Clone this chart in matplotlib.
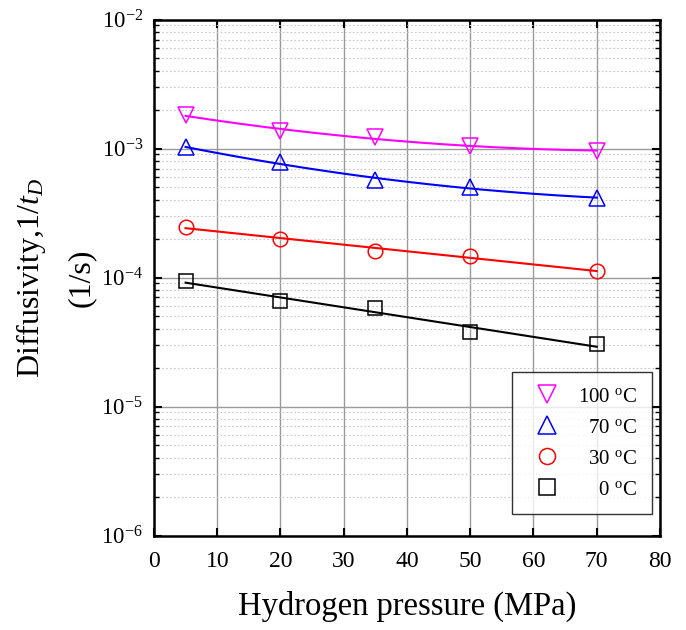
import matplotlib
matplotlib.use('Agg')
import matplotlib.pyplot as plt
import numpy as np
from matplotlib.ticker import LogLocator, NullFormatter, MultipleLocator

plt.rcParams['font.family'] = ['Liberation Serif', 'DejaVu Serif']
plt.rcParams['mathtext.fontset'] = 'custom'
plt.rcParams['mathtext.rm'] = 'Liberation Serif'
plt.rcParams['mathtext.it'] = 'Liberation Serif:italic'
plt.rcParams['axes.unicode_minus'] = False

pressure = [5, 20, 35, 50, 70]
d_0c = [9.4e-5, 6.6e-5, 5.85e-5, 3.75e-5, 3.03e-5]
d_30c = [2.47e-4, 2.0e-4, 1.61e-4, 1.48e-4, 1.12e-4]
d_70c = [1.02e-3, 7.8e-4, 5.7e-4, 5.0e-4, 4.15e-4]
d_100c = [1.82e-3, 1.36e-3, 1.22e-3, 1.05e-3, 0.96e-3]

# figure spaces pad the shorter labels so the text sits flush right
labels = ['\u2007\u20070 $^{\\rm o}$C', '\u200730 $^{\\rm o}$C',
          '\u200770 $^{\\rm o}$C', '100 $^{\\rm o}$C']
colors = ['black', 'red', 'blue', 'magenta']
markers = ['s', 'o', '^', 'v']
sizes = [10, 10.5, 12, 12]
fit_deg = [1, 1, 2, 2]


def fit_curve(x, y, deg):
    # least squares fit in log space
    c = np.polyfit(x, np.log10(y), deg)
    xs = np.linspace(min(x), max(x), 200)
    return xs, 10 ** np.polyval(c, xs)


fig = plt.figure(figsize=(6.86, 6.3), dpi=100)
ax = fig.add_axes([0.2245, 0.150, 0.7375, 0.819])

series = [d_0c, d_30c, d_70c, d_100c]
handles = []
for ys, lab, col, mk, ms, deg in zip(series, labels, colors, markers, sizes, fit_deg):
    xs, yf = fit_curve(pressure, ys, deg)
    ax.plot(xs, yf, color=col, lw=1.5, zorder=3)
    h, = ax.plot(pressure, ys, linestyle='none', marker=mk, ms=ms, mfc='none',
                 mec=col, mew=1.1, label=lab, zorder=4)
    handles.append(h)

ax.set_yscale('log')
ax.set_xlim(0, 80)
ax.set_ylim(1e-6, 1e-2)
ax.xaxis.set_major_locator(MultipleLocator(10))
ax.yaxis.set_major_locator(LogLocator(base=10, numticks=10))
ax.yaxis.set_minor_locator(LogLocator(base=10, subs=np.arange(2, 10), numticks=10))
ax.yaxis.set_minor_formatter(NullFormatter())

ax.grid(True, which='major', color='#9a9a9a', lw=1.0)
ax.grid(True, which='minor', axis='y', color='#c8c8c8', lw=0.8, linestyle=(0, (1.5, 2)))
ax.set_axisbelow(True)

ax.tick_params(which='both', direction='in', top=True, right=True)
ax.tick_params(which='major', length=6, width=1.5)
ax.tick_params(which='minor', length=3.5, width=1.0)
ax.tick_params(axis='y', which='major', pad=8, labelsize=16.5)
ax.tick_params(axis='x', which='major', pad=11, labelsize=17)
for sp in ax.spines.values():
    sp.set_linewidth(1.8)

ax.set_xlabel('Hydrogen pressure (MPa)', fontsize=23.5, labelpad=14)
ax.set_ylabel('Diffusivity,$\\it{1/t_D}$\n(1/s)', fontsize=23, labelpad=4,
              linespacing=1.85)

leg = ax.legend(handles[::-1], labels[::-1], loc='upper left',
                bbox_to_anchor=(0.7075, 0.316), borderaxespad=0, fontsize=15,
                frameon=True, fancybox=False, edgecolor='black', borderpad=0.7,
                labelspacing=0.55, handletextpad=0.53, handlelength=1.96,
                markerscale=1.1)
leg.get_frame().set_linewidth(1.0)

fig.savefig('out.png', dpi=100)
